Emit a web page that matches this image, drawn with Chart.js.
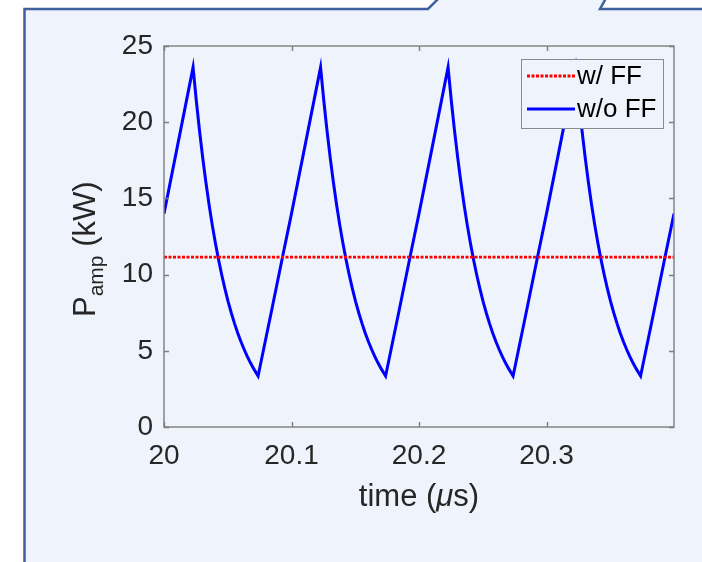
<!DOCTYPE html>
<html>
<head>
<meta charset="utf-8">
<script src="https://cdn.jsdelivr.net/npm/chart.js@4.4.1/dist/chart.umd.min.js"></script>
<style>
html,body{margin:0;padding:0;background:#ffffff;}
#wrap{position:relative;width:702px;height:562px;}
canvas{display:block;}
</style>
</head>
<body>
<div id="wrap"><canvas id="c" width="702" height="562"></canvas></div>
<script>
// ---- data ----
const timeUs = [
  20.0000, 20.0100, 20.0228, 20.0253, 20.0278, 20.0303, 20.0328, 20.0353, 20.0378, 20.0403, 20.0428, 20.0453, 20.0478, 20.0503, 20.0528, 20.0553, 20.0578, 20.0603, 20.0628, 20.0653, 20.0678, 20.0703, 20.0738, 20.0838, 20.0938,
  20.1000, 20.1100, 20.1228, 20.1253, 20.1278, 20.1303, 20.1328, 20.1353, 20.1378, 20.1403, 20.1428, 20.1453, 20.1478, 20.1503, 20.1528, 20.1553, 20.1578, 20.1603, 20.1628, 20.1653, 20.1678, 20.1703, 20.1738, 20.1838, 20.1938,
  20.2000, 20.2100, 20.2228, 20.2253, 20.2278, 20.2303, 20.2328, 20.2353, 20.2378, 20.2403, 20.2428, 20.2453, 20.2478, 20.2503, 20.2528, 20.2553, 20.2578, 20.2603, 20.2628, 20.2653, 20.2678, 20.2703, 20.2738, 20.2838, 20.2938,
  20.3000, 20.3100, 20.3228, 20.3253, 20.3278, 20.3303, 20.3328, 20.3353, 20.3378, 20.3403, 20.3428, 20.3453, 20.3478, 20.3503, 20.3528, 20.3553, 20.3578, 20.3603, 20.3628, 20.3653, 20.3678, 20.3703, 20.3738, 20.3838, 20.3938,
  20.4000
];
const pampWithoutFF = [
  14.0, 18.2, 23.6, 21.44, 19.49, 17.71, 16.09, 14.62, 13.28, 12.07, 10.97, 9.97, 9.06, 8.23, 7.48, 6.80, 6.17, 5.61, 5.10, 4.63, 4.21, 3.83, 3.35, 7.4, 11.5,
  14.0, 18.2, 23.6, 21.44, 19.49, 17.71, 16.09, 14.62, 13.28, 12.07, 10.97, 9.97, 9.06, 8.23, 7.48, 6.80, 6.17, 5.61, 5.10, 4.63, 4.21, 3.83, 3.35, 7.4, 11.5,
  14.0, 18.2, 23.6, 21.44, 19.49, 17.71, 16.09, 14.62, 13.28, 12.07, 10.97, 9.97, 9.06, 8.23, 7.48, 6.80, 6.17, 5.61, 5.10, 4.63, 4.21, 3.83, 3.35, 7.4, 11.5,
  14.0, 18.2, 23.6, 21.44, 19.49, 17.71, 16.09, 14.62, 13.28, 12.07, 10.97, 9.97, 9.06, 8.23, 7.48, 6.80, 6.17, 5.61, 5.10, 4.63, 4.21, 3.83, 3.35, 7.4, 11.5,
  14.0
];
const ffTimeUs = [20.0, 20.4];
const pampWithFF = [11.15, 11.15];
const seriesLabels = ['w/ FF', 'w/o FF'];
const xTickValues = [20, 20.1, 20.2, 20.3];
const xTickLabels = ['20', '20.1', '20.2', '20.3'];
const yTickValues = [0, 5, 10, 15, 20, 25];
const yTickLabels = ['0', '5', '10', '15', '20', '25'];

const FONT = '"Liberation Sans", Arial, Helvetica, sans-serif';
const TXT = '#262626';
const AXC = '#7d7d7d';
const FILL = '#eff3fb';

const deco = {
  id: 'deco',
  beforeDraw(chart) {
    const ctx = chart.ctx;
    ctx.save();
    ctx.fillStyle = '#ffffff';
    ctx.fillRect(0, 0, chart.width, chart.height);
    ctx.beginPath();
    ctx.moveTo(24.5, 600); ctx.lineTo(24.5, 9); ctx.lineTo(428, 9); ctx.lineTo(440, -3);
    ctx.lineTo(606.7, -3); ctx.lineTo(600, 9); ctx.lineTo(720, 9); ctx.lineTo(720, 600);
    ctx.closePath();
    ctx.fillStyle = FILL; ctx.fill();
    ctx.strokeStyle = '#3f5f9e'; ctx.lineWidth = 2.5;
    ctx.beginPath(); ctx.moveTo(24.5, 600); ctx.lineTo(24.5, 9); ctx.lineTo(428, 9); ctx.lineTo(440, -3); ctx.stroke();
    ctx.beginPath(); ctx.moveTo(606.7, -3); ctx.lineTo(600, 9); ctx.lineTo(720, 9); ctx.stroke();
    ctx.restore();
  },
  afterDatasetsDraw(chart) {
    const ctx = chart.ctx;
    const a = chart.chartArea;
    const xs = chart.scales.x, ys = chart.scales.y;
    ctx.save();
    // axes box
    ctx.strokeStyle = AXC; ctx.lineWidth = 1.4;
    ctx.strokeRect(a.left, a.top, a.right - a.left, a.bottom - a.top);
    // inward ticks
    ctx.beginPath();
    xTickValues.forEach(v => {
      const px = Math.round(xs.getPixelForValue(v)) + 0.5;
      ctx.moveTo(px, a.bottom); ctx.lineTo(px, a.bottom - 5);
      ctx.moveTo(px, a.top); ctx.lineTo(px, a.top + 5);
    });
    yTickValues.forEach(v => {
      const py = Math.round(ys.getPixelForValue(v)) + 0.5;
      ctx.moveTo(a.left, py); ctx.lineTo(a.left + 5, py);
      ctx.moveTo(a.right, py); ctx.lineTo(a.right - 5, py);
    });
    ctx.stroke();

    // legend
    const lx = 521, ly = 59, lw = 142, lh = 69;
    ctx.fillStyle = FILL;
    ctx.fillRect(lx, ly, lw, lh);
    ctx.strokeStyle = '#8a8a8a'; ctx.lineWidth = 1;
    ctx.strokeRect(lx + 0.5, ly + 0.5, lw, lh);
    const rows = [76, 109];
    chart.data.datasets.forEach((ds, i) => {
      const y = rows[i];
      ctx.save();
      ctx.strokeStyle = ds.borderColor; ctx.lineWidth = ds.borderWidth;
      ctx.setLineDash(ds.borderDash || []);
      ctx.beginPath(); ctx.moveTo(527, y); ctx.lineTo(575, y); ctx.stroke();
      ctx.restore();
      ctx.fillStyle = '#000000';
      ctx.font = '26px ' + FONT;
      ctx.textBaseline = 'middle'; ctx.textAlign = 'left';
      ctx.fillText(ds.label, 577, y + 1);
    });

    // x title: time (μs)
    ctx.fillStyle = TXT;
    ctx.textBaseline = 'middle';
    ctx.textAlign = 'left';
    const fN = '31px ' + FONT, fI = 'italic 31px ' + FONT;
    const parts = [['time (', fN], ['\u03bc', fI], ['s)', fN]];
    let tw = 0;
    parts.forEach(p => { ctx.font = p[1]; tw += ctx.measureText(p[0]).width; });
    let tx = (a.left + a.right) / 2 - tw / 2;
    parts.forEach(p => { ctx.font = p[1]; ctx.fillText(p[0], tx, 497); tx += ctx.measureText(p[0]).width; });

    // y title: P_amp (kW)
    ctx.save();
    ctx.translate(95, 317);
    ctx.rotate(-Math.PI / 2);
    ctx.textBaseline = 'alphabetic';
    let ox = 0;
    ctx.font = '31px ' + FONT; ctx.fillText('P', ox, 0); ox += ctx.measureText('P').width;
    ctx.font = '21px ' + FONT; ctx.fillText('amp', ox, 8); ox += ctx.measureText('amp').width;
    ctx.font = '31px ' + FONT; ctx.fillText(' (kW)', ox, 0);
    ctx.restore();

    ctx.restore();
  }
};

new Chart(document.getElementById('c'), {
  type: 'line',
  data: {
    datasets: [
      {
        label: seriesLabels[0],
        data: ffTimeUs.map((t, i) => ({ x: t, y: pampWithFF[i] })),
        borderColor: '#ff0000',
        borderWidth: 2.8,
        borderDash: [3, 1.5],
        pointRadius: 0,
        tension: 0
      },
      {
        label: seriesLabels[1],
        data: timeUs.map((t, i) => ({ x: t, y: pampWithoutFF[i] })),
        borderColor: '#0000ff',
        borderWidth: 3,
        pointRadius: 0,
        tension: 0
      }
    ]
  },
  options: {
    responsive: false,
    animation: false,
    devicePixelRatio: 1,
    layout: { padding: { left: 0, right: 28, top: 46, bottom: 0 } },
    plugins: { legend: { display: false }, tooltip: { enabled: false } },
    scales: {
      x: {
        type: 'linear', min: 20, max: 20.4,
        grid: { display: false, drawTicks: false },
        border: { display: false },
        afterBuildTicks: s => { s.ticks = xTickValues.map(v => ({ value: v })); },
        afterFit: s => { s.height = 135; },
        ticks: {
          color: TXT, font: { family: FONT, size: 28 }, padding: 12, maxRotation: 0,
          callback: (v, i) => xTickLabels[i]
        }
      },
      y: {
        type: 'linear', min: 0, max: 25,
        grid: { display: false, drawTicks: false },
        border: { display: false },
        afterBuildTicks: s => { s.ticks = yTickValues.map(v => ({ value: v })); },
        afterFit: s => { s.width = 164; },
        ticks: {
          color: TXT, font: { family: FONT, size: 28 }, padding: 11,
          callback: (v, i) => yTickLabels[i]
        }
      }
    }
  },
  plugins: [deco]
});
</script>
</body>
</html>
